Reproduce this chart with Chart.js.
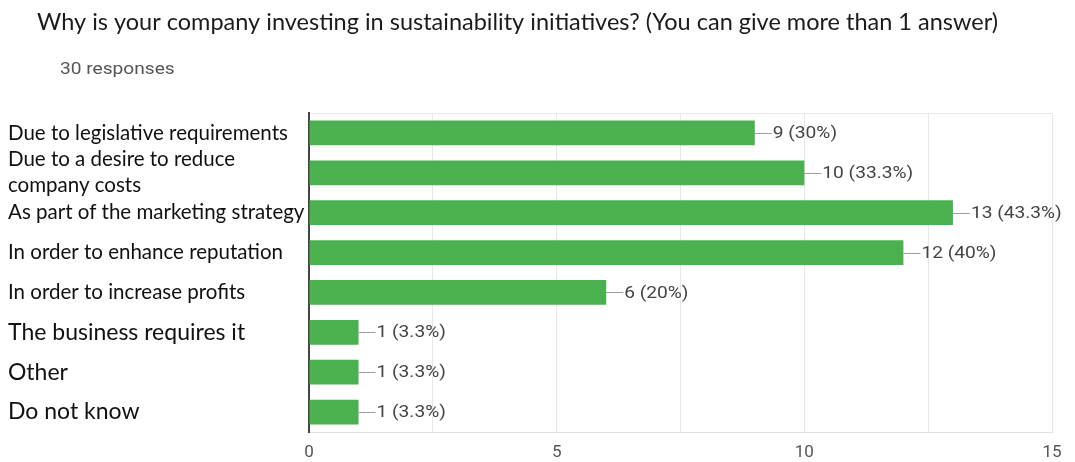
<!DOCTYPE html>
<html>
<head>
<meta charset="utf-8">
<script src="https://cdn.jsdelivr.net/npm/chart.js@4"></script>
<style>
  body { margin: 0; background: #fff; }
  #wrap { width: 1075px; height: 462px; position: relative; }
</style>
</head>
<body>
<div id="wrap"><canvas id="myChart"></canvas></div>
<script>
const questionTitle = "Why is your company investing in sustainability initiatives? (You can give more than 1 answer)";
const responseCount = 30;
const answers = [
  "Due to legislative requirements",
  ["Due to a desire to reduce", "company costs"],
  "As part of the marketing strategy",
  "In order to enhance reputation",
  "In order to increase profits",
  "The business requires it",
  "Other",
  "Do not know"
];
const counts = [9, 10, 13, 12, 6, 1, 1, 1];
const xTicks = [0, 5, 10, 15];

// google forms text in the screenshot is a bit wider than normal
const stretch = 1.16;

function pct(v) {
  return Math.round(v / responseCount * 1000) / 10;
}

function wideText(ctx, text, x, y) {
  ctx.save();
  ctx.translate(x, y);
  ctx.scale(stretch, 1);
  ctx.fillText(text, 0, 0);
  ctx.restore();
}

const extras = {
  id: "extras",
  afterDatasetsDraw(chart) {
    const ctx = chart.ctx;
    const meta = chart.getDatasetMeta(0);
    ctx.save();
    ctx.textBaseline = "middle";
    ctx.font = "16.5px Roboto";
    meta.data.forEach(function (bar, i) {
      var y = Math.round(bar.y) + 0.5;
      ctx.strokeStyle = "#9e9e9e";
      ctx.lineWidth = 1;
      ctx.beginPath();
      ctx.moveTo(bar.x, y);
      ctx.lineTo(bar.x + 17, y);
      ctx.stroke();
      ctx.fillStyle = "#444";
      wideText(ctx, counts[i] + " (" + pct(counts[i]) + "%)", bar.x + 18, bar.y + 1);
    });

    // question + response count
    ctx.fillStyle = "#1b1b1b";
    ctx.font = "23.5px Lato";
    ctx.fillText(questionTitle, 37, 22);
    ctx.fillStyle = "#555";
    ctx.font = "16.5px Roboto";
    wideText(ctx, responseCount + " responses", 60, 70);
    ctx.restore();
  }
};

var ctx = document.getElementById("myChart").getContext("2d");
var myChart = new Chart(ctx, {
  type: "bar",
  data: {
    labels: answers,
    datasets: [{
      data: counts,
      backgroundColor: "#4caf50",
      barPercentage: 0.62,
      categoryPercentage: 1
    }]
  },
  options: {
    indexAxis: "y",
    responsive: true,
    maintainAspectRatio: false,
    animation: false,
    layout: {
      padding: { left: 8, top: 113, right: 23, bottom: 0 }
    },
    plugins: {
      legend: { display: false },
      tooltip: { enabled: false }
    },
    scales: {
      x: {
        min: xTicks[0],
        max: xTicks[xTicks.length - 1],
        grid: { color: "#e8e8e8", drawTicks: false },
        border: { color: "#e0e0e0" },
        ticks: {
          stepSize: 2.5,
          padding: 11,
          color: "#555",
          autoSkip: false,
          maxRotation: 0,
          font: { family: "Roboto", size: 17 },
          callback: function (v) {
            return xTicks.includes(v) ? v : "";
          }
        },
        afterFit: function (s) { s.height = 30; }
      },
      y: {
        grid: {
          drawTicks: false,
          color: function (c) { return c.index === 0 ? "#e8e8e8" : "transparent"; }
        },
        border: { color: "#444", width: 2 },
        ticks: {
          crossAlign: "far",
          color: "#111",
          autoSkip: false,
          font: function (c) {
            if (c.index >= 5) return { family: "Lato", size: 23 };
            return { family: "Lato", size: 20.5, lineHeight: 1.27 };
          }
        },
        afterFit: function (s) { s.width = 301; }
      }
    }
  },
  plugins: [extras]
});
</script>
</body>
</html>
